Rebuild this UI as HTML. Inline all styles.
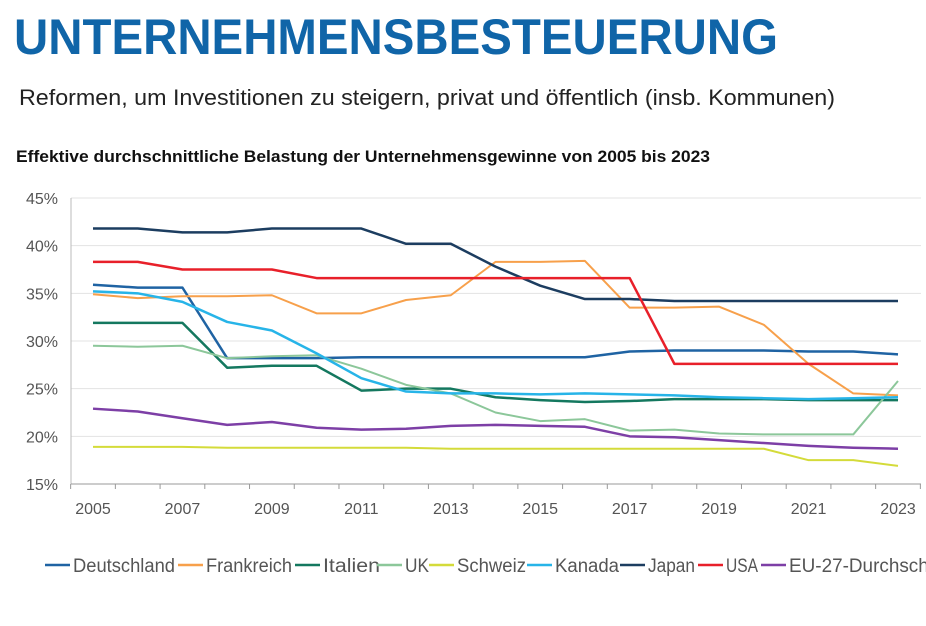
<!DOCTYPE html>
<html><head><meta charset="utf-8"><style>
body{margin:0;background:#fff;width:926px;height:626px;overflow:hidden}
svg{display:block;font-family:"Liberation Sans",sans-serif}
</style></head><body>
<svg id="chart" width="926" height="626">
<text x="14" y="54" font-size="50" font-weight="bold" fill="#1065a8" textLength="764" lengthAdjust="spacingAndGlyphs">UNTERNEHMENSBESTEUERUNG</text>
<text x="19" y="105" font-size="22" fill="#222" textLength="816" lengthAdjust="spacingAndGlyphs">Reformen, um Investitionen zu steigern, privat und öffentlich (insb. Kommunen)</text>
<text x="16" y="162" font-size="17" font-weight="bold" fill="#111" textLength="694" lengthAdjust="spacingAndGlyphs">Effektive durchschnittliche Belastung der Unternehmensgewinne von 2005 bis 2023</text>
<g id="grid"></g><g id="axes"></g><g id="lines"></g><g id="legend"></g>
</svg>
<script>
const years=[2005,2006,2007,2008,2009,2010,2011,2012,2013,2014,2015,2016,2017,2018,2019,2020,2021,2022,2023];
const yTicks=[15,20,25,30,35,40,45];
const seriesNames=["Deutschland","Frankreich","Italien","UK","Schweiz","Kanada","Japan","USA","EU-27-Durchschnitt"];
const seriesColors=["#1f63a3","#f7a04b","#14785f","#8cc79a","#d4db3a","#27b4e8","#1c3d60","#e8202a","#7d3fa6"];
const deutschland=[35.9,35.6,35.6,28.2,28.2,28.2,28.3,28.3,28.3,28.3,28.3,28.3,28.9,29.0,29.0,29.0,28.9,28.9,28.6];
const frankreich=[34.9,34.5,34.7,34.7,34.8,32.9,32.9,34.3,34.8,38.3,38.3,38.4,33.5,33.5,33.6,31.7,27.6,24.5,24.3];
const italien=[31.9,31.9,31.9,27.2,27.4,27.4,24.8,25.0,25.0,24.1,23.8,23.6,23.7,23.9,23.9,23.9,23.8,23.8,23.8];
const uk=[29.5,29.4,29.5,28.2,28.4,28.5,27.1,25.4,24.5,22.5,21.6,21.8,20.6,20.7,20.3,20.2,20.2,20.2,25.8];
const schweiz=[18.9,18.9,18.9,18.8,18.8,18.8,18.8,18.8,18.7,18.7,18.7,18.7,18.7,18.7,18.7,18.7,17.5,17.5,16.9];
const kanada=[35.2,35.0,34.1,32.0,31.1,28.7,26.1,24.7,24.5,24.5,24.4,24.5,24.4,24.3,24.1,24.0,23.9,24.0,24.1];
const japan=[41.8,41.8,41.4,41.4,41.8,41.8,41.8,40.2,40.2,37.8,35.8,34.4,34.4,34.2,34.2,34.2,34.2,34.2,34.2];
const usa=[38.3,38.3,37.5,37.5,37.5,36.6,36.6,36.6,36.6,36.6,36.6,36.6,36.6,27.6,27.6,27.6,27.6,27.6,27.6];
const eu=[22.9,22.6,21.9,21.2,21.5,20.9,20.7,20.8,21.1,21.2,21.1,21.0,20.0,19.9,19.6,19.3,19.0,18.8,18.7];
const allSeries=[deutschland,frankreich,italien,uk,schweiz,kanada,japan,usa,eu];

const NS="http://www.w3.org/2000/svg";
const x0=71,x1=921,yTop=198,yBot=484,vMin=15,vMax=45;
function xPos(i){return 93+i*(898-93)/(years.length-1);}
function yPos(v){return yBot-(v-vMin)/(vMax-vMin)*(yBot-yTop);}
function mk(tag,attrs,parent){const e=document.createElementNS(NS,tag);for(const k in attrs)e.setAttribute(k,attrs[k]);parent.appendChild(e);return e;}
const grid=document.getElementById('grid'),axes=document.getElementById('axes'),lines=document.getElementById('lines'),legend=document.getElementById('legend');
yTicks.forEach(t=>{
  if(t>vMin){const g=mk('line',{x1:x0,x2:x1,y1:yPos(t),y2:yPos(t),stroke:'#e3e3e3','stroke-width':1},grid);
  
  }
  const l=mk('text',{x:58,y:yPos(t)+6,'font-size':16,fill:'#555','text-anchor':'end'},axes);l.textContent=t+'%';
  
  
});
const ya=mk('line',{x1:x0,x2:x0,y1:yTop,y2:yBot,stroke:'#bbb','stroke-width':1},axes);


const xa=mk('line',{x1:x0,x2:x1,y1:yBot,y2:yBot,stroke:'#999','stroke-width':1},axes);


const half=(898-93)/(years.length-1)/2;
for(let i=0;i<=years.length;i++){const tx=xPos(i)-half;mk('line',{x1:tx,x2:tx,y1:yBot,y2:yBot+5,stroke:'#999'},axes);}
years.forEach((y,i)=>{if(i%2===0){const t=mk('text',{x:xPos(i),y:514,'font-size':16,fill:'#555','text-anchor':'middle'},axes);t.textContent=y;
  
  }});
allSeries.forEach((s,k)=>{
  const p=mk('polyline',{points:s.map((v,i)=>xPos(i)+','+yPos(v)).join(' '),fill:'none',stroke:seriesColors[k],'stroke-width':k===3||k===4||k===1?2:2.5,'stroke-linejoin':'round'},lines);
  
  
});
const legX=[45,178,295,377,429,527,620,698,761];
const legW=[102,86,57,24,69,64,47,32,165];
seriesNames.forEach((n,k)=>{
  const g=mk('g',{},legend);
  
  
  mk('line',{x1:legX[k],x2:legX[k]+25,y1:565,y2:565,stroke:seriesColors[k],'stroke-width':2.5},g);
  const t=mk('text',{x:legX[k]+28,y:572,'font-size':19,fill:'#555',textLength:legW[k],lengthAdjust:'spacingAndGlyphs'},g);t.textContent=n;
});
</script>
</body></html>
